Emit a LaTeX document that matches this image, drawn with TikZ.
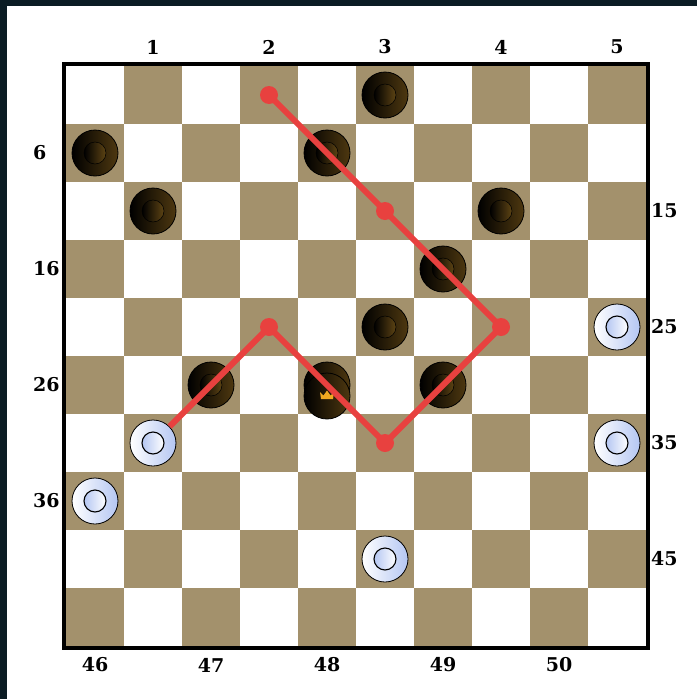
\documentclass[tikz,border=0pt]{standalone}
\usepackage{fontspec}
\setmainfont{DejaVu Serif}
\definecolor{bgdark}{HTML}{0B1C24}
\definecolor{sqdark}{HTML}{A3916C}
\definecolor{redpath}{HTML}{E8413F}
\definecolor{blkbrown}{HTML}{4E3810}
\definecolor{blkinbrown}{HTML}{5E4414}
\definecolor{whtblue}{HTML}{B4C6F2}
\definecolor{crowngold}{HTML}{F0A820}
\tikzset{
  darksq/.style={fill=sqdark, draw=none},
  blackpiece/.style={circle, minimum size=46pt, inner sep=0pt, draw=black, line width=0.8pt,
    left color=black, middle color=black, right color=blkbrown},
  blackinner/.style={circle, minimum size=22pt, inner sep=0pt, draw=black, line width=0.5pt,
    left color=black, right color=blkinbrown},
  whitepiece/.style={circle, minimum size=46pt, inner sep=0pt, draw=black, line width=0.8pt,
    left color=white, middle color=white, right color=whtblue},
  whiteinner/.style={circle, minimum size=22pt, inner sep=0pt, draw=black, line width=1.1pt,
    left color=whtblue, right color=white},
  pathdot/.style={circle, minimum size=18pt, inner sep=0pt, fill=redpath, draw=none},
  redline/.style={draw=redpath, line width=6pt},
  numlabel/.style={font=\fontsize{19}{19}\selectfont\bfseries, inner sep=0pt},
}
\begin{document}
\begin{tikzpicture}[x=1pt,y=-1pt]
\useasboundingbox (0,0) rectangle (697,699);
\fill[bgdark] (0,0) rectangle (697,699);
\fill[white] (7,6) rectangle (697,699);
% board squares
\foreach \r in {0,...,9}{
  \foreach \c in {0,...,9}{
    \pgfmathtruncatemacro{\odd}{mod(\r+\c,2)}
    \ifnum\odd=1
      \fill[sqdark] ({66+58*\c},{66+58*\r}) rectangle ++(58,58);
    \fi
  }
}
\draw[line width=4pt] (64,64) rectangle (648,648);
% square centres (dark squares)
\foreach \n in {1,...,50}{
  \pgfmathtruncatemacro{\row}{int((\n-1)/5)}
  \pgfmathtruncatemacro{\k}{mod(\n-1,5)}
  \pgfmathtruncatemacro{\col}{mod(\row,2)==0 ? 2*\k+1 : 2*\k}
  \coordinate (s\n) at ({95+58*\col},{95+58*\row});
}
% labels
\foreach \n/\c in {1/1,2/3,3/5,4/7,5/9}{
  \node[numlabel] (t\n) at ({95+58*\c},47) {\n};
}
\foreach \n/\r in {6/1,16/3,26/5,36/7}{
  \node[numlabel, anchor=west] (l\n) at (33,{95+58*\r}) {\n};
}
\foreach \n/\r in {15/2,25/4,35/6,45/8}{
  \node[numlabel, anchor=west] (r\n) at (651,{95+58*\r}) {\n};
}
\foreach \n/\c in {46/0,47/2,48/4,49/6,50/8}{
  \node[numlabel] (b\n) at ({95+58*\c},665) {\n};
}
% black men
\foreach \n in {3,6,8,11,14,19,23,27,29}{
  \node[blackpiece] (p\n) at (s\n) {};
  \node[blackinner] (q\n) at (s\n) {};
}
% black king on 28
\node[blackpiece] (p28) at (s28) {};
\node[blackpiece] (k28) at ([yshift=-11pt]s28) {};
\fill[crowngold] ([shift={(-6,3)}]k28.center) -- ++(-1,-7) -- ++(3.5,3.5) -- ++(3.5,-5) -- ++(3.5,5) -- ++(3.5,-3.5) -- ++(-1,7) -- cycle;
% white men
\foreach \n in {25,31,35,36,43}{
  \node[whitepiece] (p\n) at (s\n) {};
  \node[whiteinner] (q\n) at (s\n) {};
}
% capture path
\foreach \n in {22,33,24,13,2}{
  \node[pathdot] (d\n) at (s\n) {};
}
\draw[redline] (p31) -- (d22.center) -- (d33.center) -- (d24.center) -- (d13.center) -- (d2.center);
\end{tikzpicture}
\end{document}
